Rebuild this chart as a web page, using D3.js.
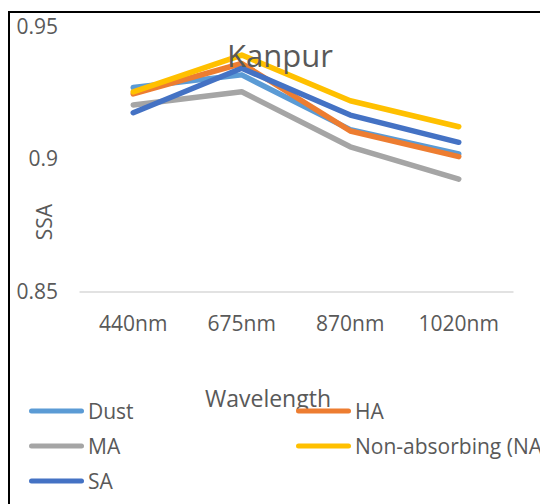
<!DOCTYPE html>
<html>
<head>
<meta charset="utf-8">
<script src="https://cdn.jsdelivr.net/npm/d3@7"></script>
<style>
  html, body { margin: 0; padding: 0; background: #fff; }
  svg { display: block; }
  text { font-family: "Open Sans", "Noto Sans", sans-serif; fill: #595959; }
</style>
</head>
<body>
<svg id="chart" width="540" height="504"></svg>
<script>
// Single scattering albedo by wavelength for each aerosol type (Kanpur)
const wavelengths = ["440nm", "675nm", "870nm", "1020nm"];
const seriesNames = ["Dust", "HA", "MA", "Non-absorbing (NA", "SA"];
const dust = [0.9271, 0.9319, 0.9112, 0.9020];
const ha   = [0.9247, 0.9362, 0.9107, 0.9010];
const ma   = [0.9205, 0.9255, 0.9047, 0.8925];
const na   = [0.9255, 0.9394, 0.9221, 0.9123];
const sa   = [0.9176, 0.9344, 0.9167, 0.9064];
const yTicks = [0.85, 0.9, 0.95];
const colors = ["#5B9BD5", "#ED7D31", "#A5A5A5", "#FFC000", "#4472C4"];

const series = [dust, ha, ma, na, sa].map((vals, i) => ({
  name: seriesNames[i],
  color: colors[i],
  values: vals.map((v, j) => ({ cat: wavelengths[j], v }))
}));

const svg = d3.select("#chart");

// chart frame (runs past the right and bottom edges)
svg.append("rect")
  .attr("x", 9).attr("y", 12)
  .attr("width", 620).attr("height", 600)
  .attr("fill", "none").attr("stroke", "#000").attr("stroke-width", 2);

const x = d3.scaleBand().domain(wavelengths).range([79, 513]);
const y = d3.scaleLinear().domain([0.85, 0.95]).range([291.5, 27]);

// value axis labels
const yAxis = svg.append("g")
  .attr("transform", "translate(58,0)")
  .call(d3.axisLeft(y).tickValues(yTicks).tickSize(0).tickPadding(0)
    .tickFormat(d => String(+d.toFixed(2))));
yAxis.select(".domain").remove();
yAxis.selectAll("text")
  .style("font-family", "'Open Sans', sans-serif")
  .attr("font-size", 21).attr("fill", "#595959");

// category axis
const xAxis = svg.append("g")
  .attr("transform", `translate(0,${y(0.85)})`)
  .call(d3.axisBottom(x).tickSize(0).tickSizeOuter(0).tickPadding(0));
xAxis.select(".domain").attr("stroke", "#D9D9D9").attr("stroke-width", 1.5);
xAxis.selectAll("text")
  .style("font-family", "'Open Sans', sans-serif")
  .attr("font-size", 21).attr("fill", "#595959")
  .attr("dy", null).attr("y", 331 - y(0.85));

// lines
const line = d3.line()
  .x(d => x(d.cat) + x.bandwidth() / 2)
  .y(d => y(d.v));

svg.append("g").selectAll("path")
  .data(series)
  .join("path")
  .attr("d", d => line(d.values))
  .attr("fill", "none")
  .attr("stroke", d => d.color)
  .attr("stroke-width", 5.5)
  .attr("stroke-linecap", "round")
  .attr("stroke-linejoin", "round");

// title
svg.append("text")
  .attr("x", 280).attr("y", 67)
  .attr("text-anchor", "middle")
  .attr("font-size", 31)
  .text("Kanpur");

// axis titles
svg.append("text")
  .attr("transform", "translate(52,222) rotate(-90)")
  .attr("text-anchor", "middle")
  .attr("font-size", 21)
  .text("SSA");

svg.append("text")
  .attr("x", 268).attr("y", 407)
  .attr("text-anchor", "middle")
  .attr("font-size", 23)
  .text("Wavelength");

// legend
const legendPos = [
  { lx: 29, ly: 411 }, { lx: 296, ly: 411 },
  { lx: 29, ly: 446 }, { lx: 296, ly: 446 },
  { lx: 29, ly: 481 }
];
const legend = svg.append("g").selectAll("g")
  .data(series)
  .join("g")
  .attr("transform", (d, i) => `translate(${legendPos[i].lx},${legendPos[i].ly})`);
legend.append("line")
  .attr("x1", 2.5).attr("x2", 52.5).attr("y1", 0).attr("y2", 0)
  .attr("stroke", d => d.color).attr("stroke-width", 5)
  .attr("stroke-linecap", "round");
legend.append("text")
  .attr("x", 59).attr("y", 7.5)
  .attr("font-size", 21)
  .text(d => d.name);
</script>
</body>
</html>
